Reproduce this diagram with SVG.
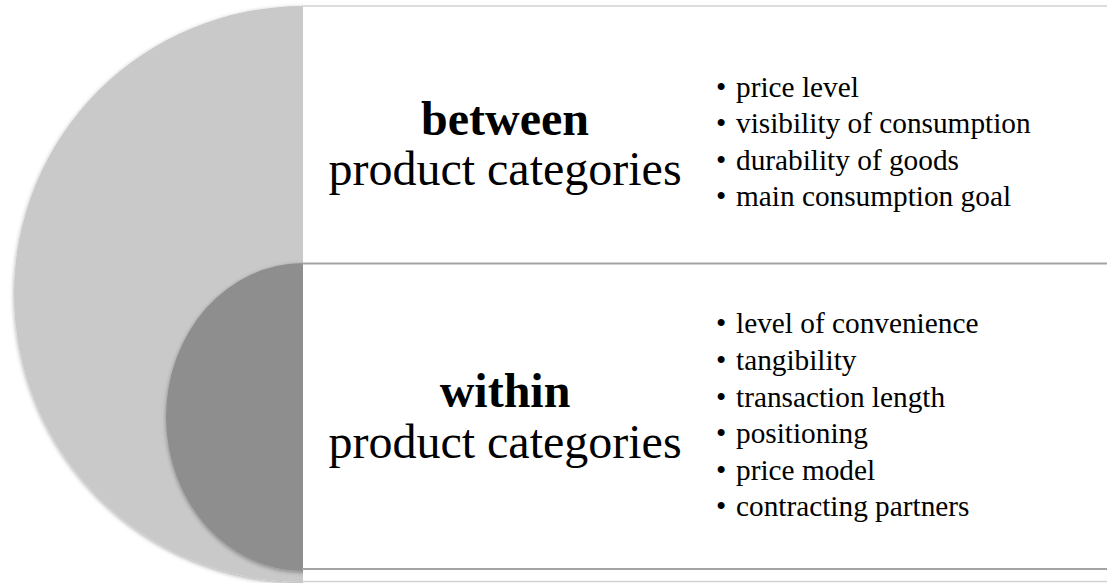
<svg xmlns="http://www.w3.org/2000/svg" width="1107" height="583" viewBox="0 0 1107 583">
  <defs>
    <style>
      .head { font-family: "Liberation Serif", "Times New Roman", serif; font-size: 48px; fill: #000; text-anchor: middle; }
      .head-b { font-weight: bold; }
      .item { font-family: "Liberation Serif", "Times New Roman", serif; font-size: 29.3px; fill: #000; }
      .edge-light { stroke: #d2d2d2; stroke-width: 1.6; }
      .edge-dark { stroke: #a3a3a3; stroke-width: 2; }
    </style>
    <filter id="softShadow" x="-10%" y="-10%" width="120%" height="120%">
      <feDropShadow dx="0" dy="1.5" stdDeviation="2" flood-color="#000" flood-opacity="0.35"/>
    </filter>
  </defs>

  <rect width="1107" height="583" fill="#fff"/>

  <!-- outer disc and inner disc, right halves hidden by the panel -->
  <g id="discs">
    <ellipse cx="303" cy="294" rx="289" ry="288" fill="#c9c9c9" filter="url(#softShadow)"/>
    <ellipse cx="303" cy="417" rx="137" ry="154" fill="#8e8e8e" filter="url(#softShadow)"/>
  </g>

  <!-- white panel carrying the two text bands -->
  <rect x="303" y="0" width="804" height="583" fill="#fff"/>
  <line class="edge-light" x1="302" y1="6" x2="1107" y2="6"/>
  <line class="edge-dark" x1="302" y1="263.5" x2="1107" y2="263.5"/>
  <line class="edge-dark" x1="302" y1="569" x2="1107" y2="569"/>
  <line class="edge-light" x1="302" y1="581.5" x2="1107" y2="581.5"/>

  <g id="node-between">
    <text class="head head-b" x="505" y="135">between</text>
    <text class="head" x="505" y="185">product categories</text>
    <g class="item">
      <text x="716" y="97">•</text><text x="736" y="97">price level</text>
      <text x="716" y="133.4">•</text><text x="736" y="133.4">visibility of consumption</text>
      <text x="716" y="169.8">•</text><text x="736" y="169.8">durability of goods</text>
      <text x="716" y="206.2">•</text><text x="736" y="206.2">main consumption goal</text>
    </g>
  </g>

  <g id="node-within">
    <text class="head head-b" x="505" y="407">within</text>
    <text class="head" x="505" y="458">product categories</text>
    <g class="item">
      <text x="716" y="333.3">•</text><text x="736" y="333.3">level of convenience</text>
      <text x="716" y="369.9">•</text><text x="736" y="369.9">tangibility</text>
      <text x="716" y="406.5">•</text><text x="736" y="406.5">transaction length</text>
      <text x="716" y="443.1">•</text><text x="736" y="443.1">positioning</text>
      <text x="716" y="479.7">•</text><text x="736" y="479.7">price model</text>
      <text x="716" y="516.3">•</text><text x="736" y="516.3">contracting partners</text>
    </g>
  </g>
</svg>
